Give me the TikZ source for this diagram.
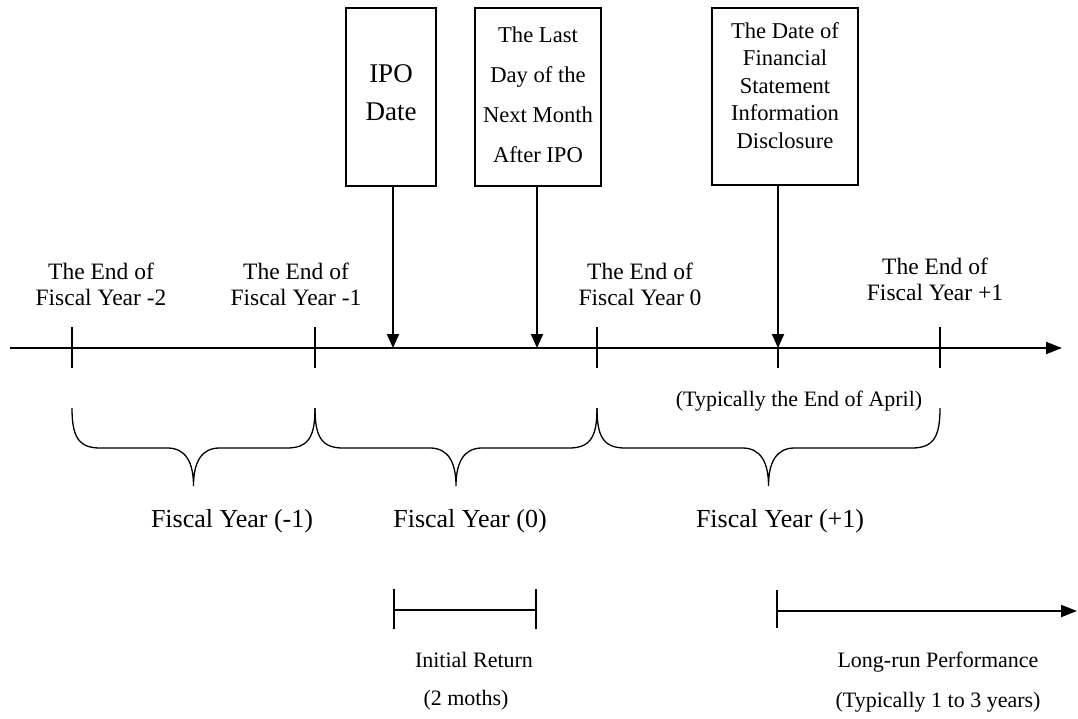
\documentclass[tikz,border=0pt]{standalone}
\usepackage{fontspec}
\setmainfont{Liberation Serif}
\usetikzlibrary{arrows.meta}
\newcommand{\mybrace}[3]{\draw[bracestyle] (#1,408) .. controls (#1,436) and ({#1+6},448) .. ({#1+28},448) -- ({#3-26},448) .. controls ({#3-8},448) and (#3,462) .. (#3,486) .. controls (#3,462) and ({#3+8},448) .. ({#3+26},448) -- ({#2-28},448) .. controls ({#2-6},448) and (#2,436) .. (#2,408);}
\begin{document}
\begin{tikzpicture}[x=1pt,y=-1pt,
  box/.style={draw,line width=1.5pt,inner sep=0pt},
  tickstyle/.style={line width=1.3pt},
  axisstyle/.style={line width=2pt,-{Triangle[width=12pt,length=16pt]}},
  downarrow/.style={line width=2pt,-{Triangle[width=12pt,length=14pt]}},
  bracestyle/.style={line width=1.3pt},
  lab/.style={align=center,font=\fontsize{23.5}{26}\selectfont},
  big/.style={font=\fontsize{26}{30}\selectfont,anchor=base},
  small/.style={font=\fontsize{22}{26}\selectfont,anchor=base}]
\useasboundingbox (0,0) rectangle (1078,718);
% boxes
\node[box,minimum width=90pt,minimum height=178pt] (b1) at (391,97) {};
\node[box,minimum width=126pt,minimum height=178pt] (b2) at (538,97) {};
\node[box,minimum width=146pt,minimum height=177pt] (b3) at (785,96.5) {};
\node[font=\fontsize{27}{38}\selectfont,align=center] (t1) at (391,93) {IPO\\Date};
\node[font=\fontsize{22.6}{40}\selectfont,align=center] (t2) at (538,94.8) {The Last\\Day of the\\Next Month\\After IPO};
\node[font=\fontsize{22.6}{27.5}\selectfont,align=center] (t3) at (785,85.3) {The Date of\\Financial\\Statement\\Information\\Disclosure};
% axis
\coordinate (s) at (10,348);
\coordinate (e) at (1062,348);
\coordinate (p1) at (72,348);
\coordinate (p2) at (315,348);
\coordinate (p3) at (597,348);
\coordinate (p4) at (778,348);
\coordinate (p5) at (940,348);
\coordinate (ipo) at (393,348);
\coordinate (m1) at (537,348);
\draw[axisstyle] (s) -- (e);
\foreach \p in {p1,p2,p3,p5} \draw[tickstyle] ([yshift=-20pt]\p) -- ([yshift=21pt]\p);
\draw[tickstyle] ([yshift=-20pt]p4) -- (p4);
\draw[downarrow] (b1.south -| ipo) -- (ipo);
\draw[downarrow] (b2.south -| m1) -- (m1);
\draw[downarrow] (b3.south -| p4) -- (p4);
% axis labels
\node[lab] (l1) at (101,284.5) {The End of\\Fiscal Year -2};
\node[lab] (l2) at (296,284.5) {The End of\\Fiscal Year -1};
\node[lab] (l3) at (640,284.5) {The End of\\Fiscal Year 0};
\node[lab] (l4) at (935,279.5) {The End of\\Fiscal Year +1};
\node[small] (apr) at (799,406) {(Typically the End of April)};
% braces
\mybrace{72}{315}{193.5}
\mybrace{315}{597}{456}
\mybrace{597}{940}{768.5}
\node[big] (fy1) at (232,527) {Fiscal Year (-1)};
\node[big] (fy2) at (470,527) {Fiscal Year (0)};
\node[big] (fy3) at (780,527) {Fiscal Year (+1)};
% initial return
\coordinate (r1) at (394,610);
\coordinate (r2) at (536,610);
\draw[line width=1.7pt] (r1) -- (r2);
\draw[tickstyle] ([yshift=21pt]r1) -- ([yshift=-19pt]r1);
\draw[tickstyle] ([yshift=21pt]r2) -- ([yshift=-19pt]r2);
\node[small] (ir) at (474,667) {Initial Return};
\node[small] (ir2) at (466,705) {(2 moths)};
% long-run
\coordinate (q1) at (777,611);
\coordinate (q2) at (1077,611);
\draw[axisstyle] (q1) -- (q2);
\draw[tickstyle] ([yshift=21pt]q1) -- ([yshift=-17pt]q1);
\node[small] (lr) at (938,667) {Long-run Performance};
\node[small] (lr2) at (938,707) {(Typically 1 to 3 years)};
\end{tikzpicture}
\end{document}
